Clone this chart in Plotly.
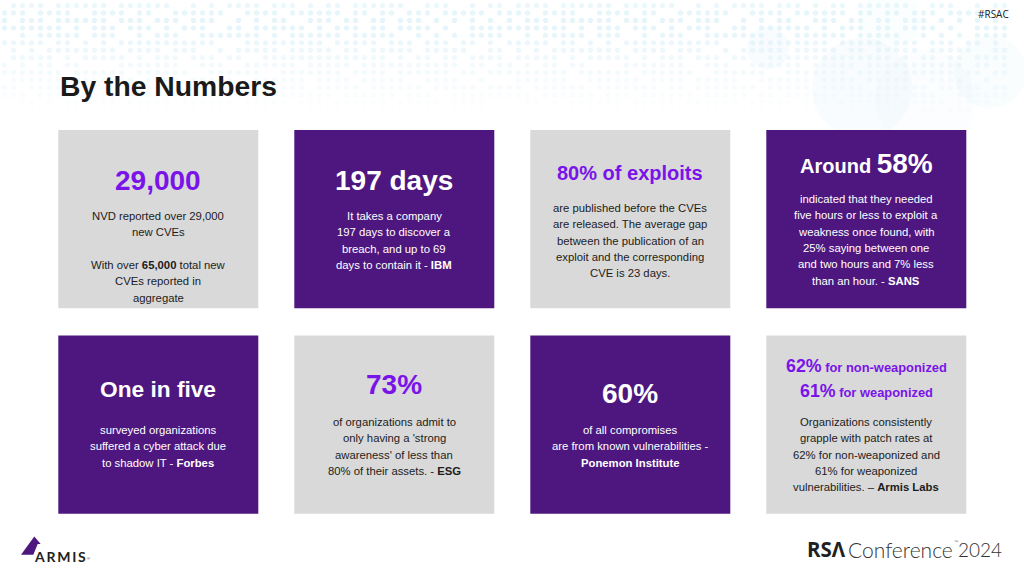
import plotly.graph_objects as go

# card texts, left to right then second row
card_fill = ["grey", "purple", "grey", "purple", "purple", "grey", "purple", "grey"]

card_heads = [
    ["29,000"],
    ["197 days"],
    ["80% of exploits"],
    ["Around <span style='font-size:28px'>58%</span>"],
    ["One in five"],
    ["73%"],
    ["60%"],
    ["<span style='font-size:17.8px'>62%</span> for non-weaponized",
     "<span style='font-size:17.8px'>61%</span> for weaponized"],
]

card_body = [
    ["NVD reported over 29,000", "new CVEs", "",
     "With over <b>65,000</b> total new", "CVEs reported in", "aggregate"],
    ["It takes a company", "197 days to discover a", "breach, and up to 69",
     "days to contain it - <b>IBM</b>"],
    ["are published before the CVEs", "are released. The average gap",
     "between the publication of an", "exploit and the corresponding", "CVE is 23 days."],
    ["indicated that they needed", "five hours or less to exploit a",
     "weakness once found, with", "25% saying between one",
     "and two hours and 7% less", "than an hour. - <b>SANS</b>"],
    ["surveyed organizations", "suffered a cyber attack due", "to shadow IT - <b>Forbes</b>"],
    ["of organizations admit to", "only having a 'strong",
     "awareness' of less than", "80% of their assets. - <b>ESG</b>"],
    ["of all compromises", "are from known vulnerabilities -", "<b>Ponemon Institute</b>"],
    ["Organizations consistently", "grapple with patch rates at",
     "62% for non-weaponized and", "61% for weaponized",
     "vulnerabilities. – <b>Armis Labs</b>"],
]

# background dot pattern, columns that hold a dot in each row
dot_rows = [
    "1-4 6-11 13-18 21 23 25-28 30-32 34 36 37 39-44 47-49 52 54 55",
    "0-2 4-7 10-13 15 16 19-24 27-30 32-37 39 40 42 43 45-47 49-53 55",
    "0 2-4 6-11 13-15 17-19 21-23 26 28 30 31 34-36 38 39 41 42 44-46 48 50 52 54",
    "0-6 8 10-12 14-16 18 20-22 25 26 28-33 35 37-39 41 42 44-47 49 52-55",
    "2 4-8 10-12 15 17-19 22-28 30 32-37 39-43 46 48 50 52-55",
    "0-4 6 7 9 11 13-23 27-35 37-41 43-45 47-49 51 52 54",
    "1 3 5-12 14-17 19-21 24 26-30 32-36 38 39 41-45 47-51 54 55",
    "1-5 7 9-13 15 17-19 21-23 25 26 29-42 44 46 47 49 50 52-55",
    "0 2 4 5 7 8 13-19 22-24 27-32 34-38 40-50 52 53 55",
    "0-6 8-13 15-20 23-28 31-37 39-42 44-49 51 52 54 55",
    "1-6 9-14 16-19 21-25 28-33 35-38 40-44 47-50 53",
    "0 1 3-8 10-16 18 19 21-27 29-33 35-39 41-46 48-52 54 55",
    "0-2 4-9 11-13 15-20 22-26 28 29 31-36 38-43 45-47 50-55",
    "2 3 5 7-12 14-18 20-25 27-31 33-35 37-42 44-48 50-53",
    "3 4 6-9 11 12 14-19 21-24 26-30 32-38 40-44 46 47 49-53",
]
dot_alpha = [0.5, 0.58, 0.62, 0.62, 0.55, 0.48, 0.42, 0.36, 0.3, 0.26, 0.22, 0.18, 0.14, 0.1, 0.06]

# layout of the slide, in pixels
card_x = [58.3, 294.3, 530.3, 766.3]
card_y = [130, 335.5]
card_w = 200
card_h = 178.3

head_y = [[180], [180], [172.5], [163.5], [389], [384.5], [393], [366, 391]]
head_size = [28, 28, 20, 20, 22.7, 28, 28, 12.9]
body_top = [216, 216, 208, 199, 430, 422, 430, 422]
line_gap = 16.35

GREY = "#D9D9D9"
PURPLE = "#4E177F"
ACCENT = "#7A13E8"
INK = "#1c1c1c"
FONT = "Liberation Sans"


def parse_cols(text):
    cols = []
    for part in text.split():
        if "-" in part:
            a, b = part.split("-")
            cols += list(range(int(a), int(b) + 1))
        else:
            cols.append(int(part))
    return cols


fig = go.Figure()

# dots: the pattern is tiled twice across the slide
xs, ys, colors = [], [], []
for r, row in enumerate(dot_rows):
    for tile in [0, 505]:
        for c in parse_cols(row):
            xs.append(4.5 + 9 * c + tile)
            ys.append(5.5 + 7.45 * r)
            colors.append("rgba(214,239,248,%.2f)" % dot_alpha[r])

fig.add_trace(go.Scatter(x=xs, y=ys, mode="markers", hoverinfo="skip",
                         marker=dict(size=5.2, color=colors, line=dict(width=0))))

shapes = []

# pale circles behind the dots, top right
for cx, cy, rad, op in [(768, 48, 21, 0.25), (862, 88, 50, 0.22), (925, 100, 50, 0.14),
                        (990, 72, 36, 0.2), (890, 20, 30, 0.12)]:
    shapes.append(dict(type="circle", x0=cx - rad, x1=cx + rad, y0=cy - rad, y1=cy + rad,
                       fillcolor="rgba(226,243,250,%.2f)" % op, line=dict(width=0), layer="below"))

annos = []


def text(x, y, s, size, color=INK, bold=False, anchor="center", family=FONT, weight=None):
    f = dict(family=family, size=size, color=color)
    if weight:
        f["weight"] = weight
    annos.append(dict(x=x, y=y, xref="x", yref="y", text="<b>%s</b>" % s if bold else s,
                      showarrow=False, xanchor=anchor, yanchor="middle", font=f,
                      borderpad=0, borderwidth=0))


for i in range(8):
    x0 = card_x[i % 4]
    y0 = card_y[i // 4]
    purple = card_fill[i] == "purple"
    shapes.append(dict(type="rect", x0=x0, x1=x0 + card_w, y0=y0, y1=y0 + card_h,
                       fillcolor=PURPLE if purple else GREY, line=dict(width=0), layer="above"))
    cx = x0 + card_w / 2
    for line, y in zip(card_heads[i], head_y[i]):
        text(cx, y, line, head_size[i], "#ffffff" if purple else ACCENT, bold=True)
    for n, line in enumerate(card_body[i]):
        if line:
            text(cx, body_top[i] + n * line_gap, line, 11.3, "#ffffff" if purple else INK)

# title and tag
text(59.5, 85.5, "By the Numbers", 28.3, "#1a1a1a", bold=True, anchor="left")
text(993, 14, "#RSAC", 10, "#222222", family="Open Sans")

# logos at the bottom
shapes.append(dict(type="path", path="M 21 554.7 L 34.3 536.5 L 40.7 544 L 37.7 544 L 33.3 554.7 Z",
                   fillcolor="#4E177F", line=dict(width=0), layer="above"))
text(33.5, 556.5, "A\u2009R\u2009M\u2009I\u2009S", 14, "#231f20", bold=True, anchor="left", family="Lato")
text(88.5, 558.5, "®", 4, "#231f20")

text(807, 549, "RSΛ", 20.5, "#231f20", bold=True, anchor="left", family="Open Sans")
text(847.5, 549, "Conference", 21, "#333333", anchor="left", family="Lato", weight=300)
text(955.5, 541, "™", 4, "#555555")
text(958, 549, "2024", 19, "#333333", anchor="left", family="Lato", weight=300)

fig.update_layout(
    width=1024, height=576, autosize=False,
    margin=dict(l=0, r=0, t=0, b=0),
    paper_bgcolor="white", plot_bgcolor="white",
    showlegend=False,
    shapes=shapes, annotations=annos,
    xaxis=dict(range=[0, 1024], visible=False, fixedrange=True),
    yaxis=dict(range=[576, 0], visible=False, fixedrange=True),
)

fig.write_html("out.html", config={"displayModeBar": False},
               post_script="document.body.style.margin='0';")
